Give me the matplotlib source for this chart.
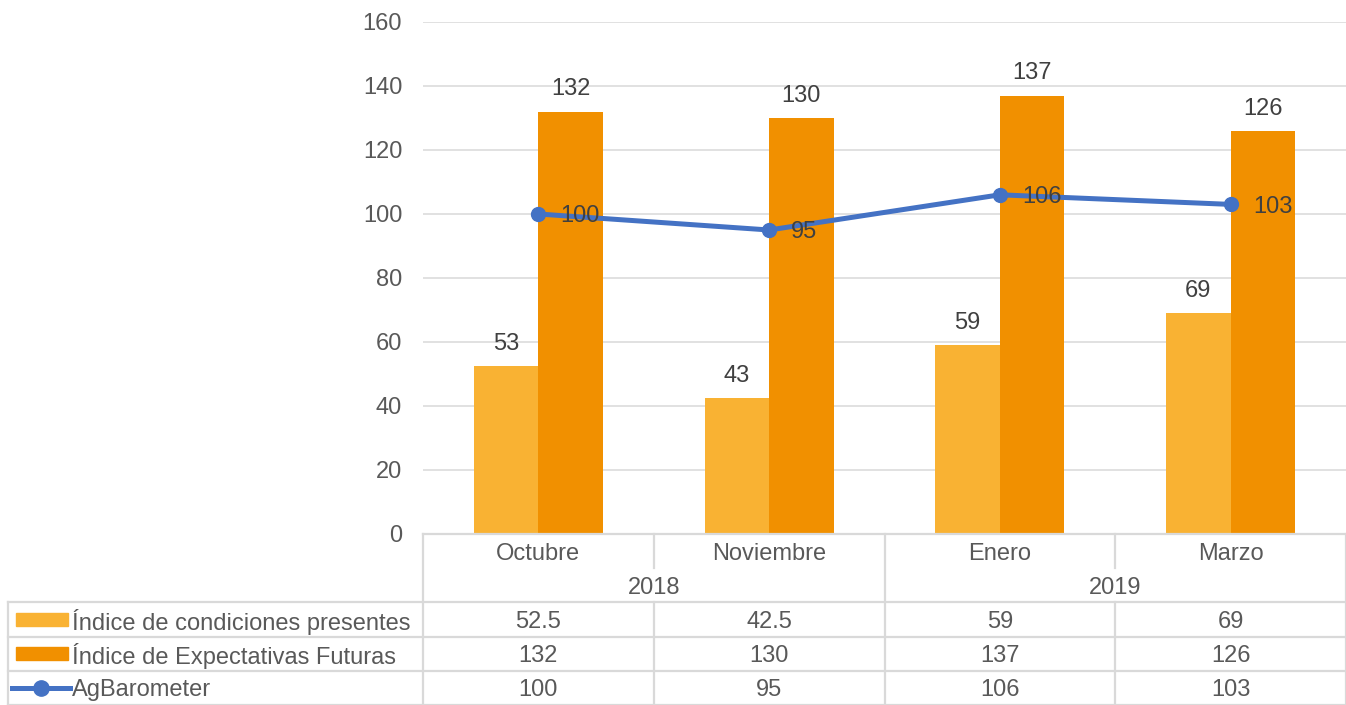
import matplotlib.pyplot as plt
from matplotlib.patches import Rectangle
from matplotlib.lines import Line2D
import numpy as np

plt.rcParams['font.family'] = ['Liberation Sans', 'DejaVu Sans']

MONTHS = ['Octubre', 'Noviembre', 'Enero', 'Marzo']
YEARS = ['2018', '2019']
YEAR_SPAN = [2, 2]            # months under each year
PRESENTES = [52.5, 42.5, 59, 69]
FUTURAS = [132, 130, 137, 126]
AGBAROMETER = [100, 95, 106, 103]
SERIES_NAMES = ['Índice de condiciones presentes',
                'Índice de Expectativas Futuras',
                'AgBarometer']
YTICKS = [0, 20, 40, 60, 80, 100, 120, 140, 160]

C_LIGHT = '#F9B233'
C_DARK = '#F19000'
C_BLUE = '#4472C4'
C_GRID = '#D9D9D9'
C_TICK = '#595959'
C_LABEL = '#404040'
FS = 17

W, H = 1346, 705
fig = plt.figure(figsize=(W / 100, H / 100), dpi=100)

# plot area (pixels)
L, R, T, B = 423, 1346, 22, 534
ax = fig.add_axes([L / W, 1 - B / H, (R - L) / W, (B - T) / H])

x = np.arange(len(MONTHS))
bw = 0.28
b1 = ax.bar(x - bw / 2, PRESENTES, bw, color=C_LIGHT, zorder=2)
b2 = ax.bar(x + bw / 2, FUTURAS, bw, color=C_DARK, zorder=2)
ax.plot(x, AGBAROMETER, color=C_BLUE, lw=3.6, marker='o', ms=10, zorder=3,
        solid_capstyle='round')

ax.bar_label(b1, labels=[str(int(v + 0.5)) for v in PRESENTES], padding=8,
             fontsize=FS, color=C_LABEL)
ax.bar_label(b2, labels=[str(int(v + 0.5)) for v in FUTURAS], padding=8,
             fontsize=FS, color=C_LABEL)
for xi, v in zip(x, AGBAROMETER):
    ax.annotate(f'{v:g}', (xi, v), xytext=(16, 0), textcoords='offset points',
                ha='left', va='center_baseline', fontsize=FS, color=C_LABEL,
                zorder=4)

ax.set_xlim(-0.5, len(MONTHS) - 0.5)
ax.set_ylim(YTICKS[0], YTICKS[-1])
ax.set_yticks(YTICKS)
ax.set_xticks([])
ax.tick_params(axis='y', length=0, pad=15, labelsize=FS, labelcolor=C_TICK)
ax.yaxis.grid(True, color=C_GRID, lw=1.1, zorder=0)
for s in ax.spines.values():
    s.set_visible(False)

# ---- data table below the plot ----
upx = (R - L) / len(MONTHS)          # pixels per category
xl = -0.5 - (L - 8) / upx
tax = fig.add_axes([8 / W, 0, (W - 8) / W, (H - B) / H])
tax.set_xlim(xl, len(MONTHS) - 0.5)
tax.set_ylim(5, 0)
tax.axis('off')

lk = dict(color=C_GRID, lw=1.6, clip_on=False)
xr = len(MONTHS) - 0.5
tax.plot([-0.5, xr], [0, 0], **lk)
tax.plot([-0.5, -0.5], [0, 5], **lk)
tax.plot([xr, xr], [0, 5], **lk)
tax.plot([xl, xl], [2, 5], **lk)
for yy in [2, 3, 4, 5]:
    tax.plot([xl, xr], [yy, yy], **lk)
year_edges = np.cumsum(YEAR_SPAN)[:-1] - 0.5
for xb in np.arange(0.5, len(MONTHS) - 1):
    if np.any(np.isclose(year_edges, xb)):
        tax.plot([xb, xb], [0, 5], **lk)
    else:
        tax.plot([xb, xb], [0, 1], **lk)
        tax.plot([xb, xb], [2, 5], **lk)

tk = dict(fontsize=FS, color=C_TICK, ha='center', va='center_baseline')
for i, m in enumerate(MONTHS):
    tax.text(i, 0.5, m, **tk)
start = 0
for yr, n in zip(YEARS, YEAR_SPAN):
    tax.text(start + (n - 1) / 2, 1.5, yr, **tk)
    start += n

for r, vals in enumerate([PRESENTES, FUTURAS, AGBAROMETER]):
    for i, v in enumerate(vals):
        tax.text(i, 2.5 + r, f'{v:g}', **tk)

# legend keys inside the table
def px(p):
    return xl + (p - 8) / upx

for r, (name, col) in enumerate(zip(SERIES_NAMES, [C_LIGHT, C_DARK, C_BLUE])):
    yc = 2.5 + r
    if r < 2:
        tax.add_patch(Rectangle((px(16), yc - 0.19), px(68) - px(16), 0.38,
                                color=col, clip_on=False))
    else:
        tax.add_line(Line2D([px(12), px(70)], [yc, yc], color=col, lw=3.6,
                            clip_on=False))
        tax.plot([px(41)], [yc], marker='o', ms=11, color=col, clip_on=False)
    tax.text(px(72), yc, name, fontsize=FS, color=C_TICK, ha='left',
             va='center_baseline')

fig.savefig('out.png', dpi=100)
